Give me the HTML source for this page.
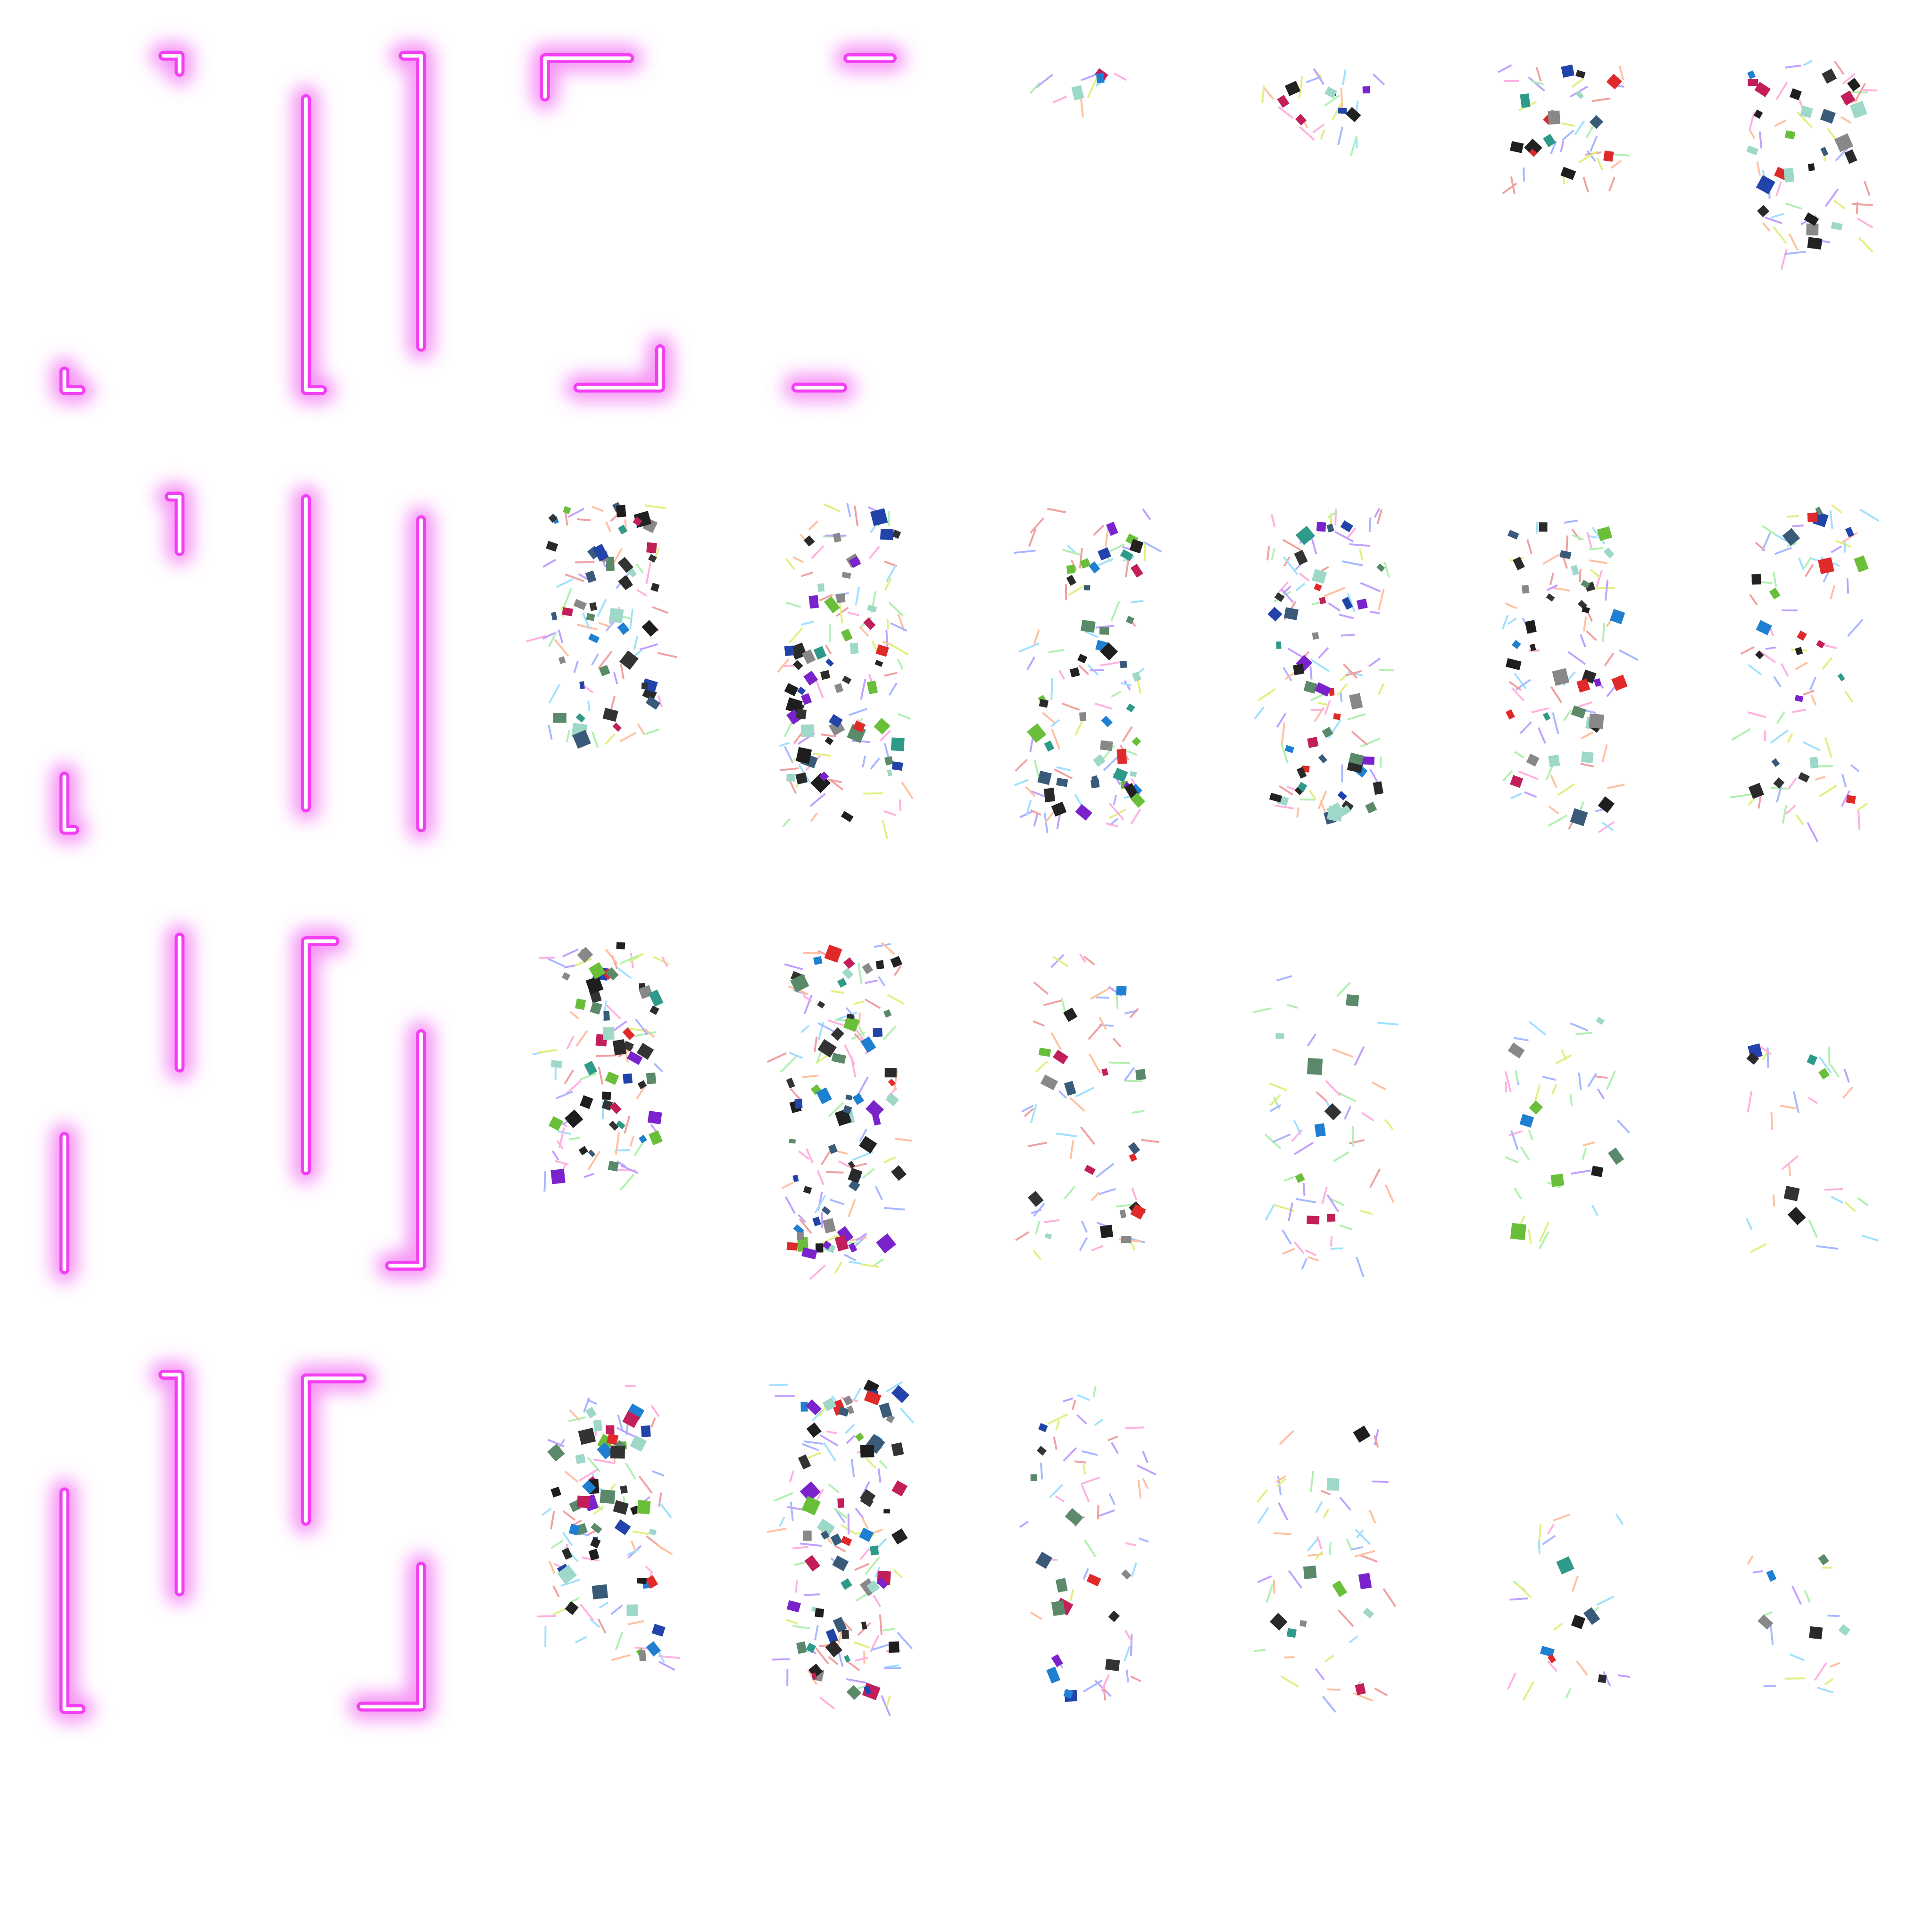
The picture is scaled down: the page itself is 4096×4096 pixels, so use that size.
<!DOCTYPE html>
<html><head><meta charset="utf-8"><style>
html,body{margin:0;padding:0;background:#fff;}
svg{display:block;}
</style></head><body>
<svg width="4096" height="4096" viewBox="0 0 1560 1560" xmlns="http://www.w3.org/2000/svg">
<defs>
<filter id="glow" filterUnits="userSpaceOnUse" x="0" y="0" width="1560" height="1560">
<feGaussianBlur stdDeviation="7"/>
</filter>
</defs>
<rect width="1560" height="1560" fill="#fff"/>
<g id="neon"></g>
<g id="confetti"></g>
</svg>
<script>
const neonPaths = [
 "M132,45 L145,45 L145,58",
 "M52,300 L52,315 L65,315",
 "M247,80 L247,315 L260,315",
 "M326,45 L340,45 L340,280",
 "M440,78 L440,47 L508,47",
 "M685,47 L720,47",
 "M467,313 L533,313 L533,282",
 "M643,313 L680,313",
 "M137,401 L145,401 L145,445",
 "M52,627 L52,670 L60,670",
 "M247,403 L247,652",
 "M340,420 L340,668",
 "M145,757 L145,862",
 "M52,918 L52,1025",
 "M247,945 L247,760 L270,760",
 "M340,835 L340,1022 L315,1022",
 "M132,1110 L145,1110 L145,1285",
 "M52,1205 L52,1380 L65,1380",
 "M247,1228 L247,1113 L292,1113",
 "M340,1265 L340,1378 L292,1378"
];
const NS="http://www.w3.org/2000/svg";
const ng=document.getElementById('neon');
neonPaths.forEach(d=>{
  [[22,"#f050f0",0.6,true],[8,"#f33ff3",1,false],[3,"#ffffff",1,false]].forEach(([w,c,o,f])=>{
    const p=document.createElementNS(NS,'path');
    
    
    p.setAttribute('d',d);p.setAttribute('fill','none');p.setAttribute('stroke',c);
    p.setAttribute('stroke-width',w);p.setAttribute('stroke-opacity',o);
    p.setAttribute('stroke-linecap','round');p.setAttribute('stroke-linejoin','round');
    if(f)p.setAttribute('filter','url(#glow)');
    ng.appendChild(p);
  });
});
const regions=[
 [830,915,55,80,3,8],[1020,1115,55,110,8,20],[1215,1310,50,150,15,30],[1410,1510,48,205,25,40],
 [440,535,405,600,45,60],[633,730,405,665,55,80],[828,925,410,665,45,80],[1020,1120,410,665,45,80],[1215,1312,420,665,35,70],[1410,1508,405,665,22,70],
 [440,535,760,955,45,60],[633,730,760,1022,60,80],[828,925,765,1020,18,55],[1020,1120,775,1020,8,50],[1215,1312,820,1010,8,35],[1410,1510,840,1015,6,25],
 [440,535,1115,1345,50,70],[633,730,1115,1375,60,90],[828,925,1115,1375,16,50],[1020,1120,1150,1370,10,45],[1220,1310,1220,1365,6,20],[1415,1500,1240,1380,5,15]
];
const sqColors=["#1e1e1e","#2a2a2a","#333","#222","#e02a2a","#7a22cc","#1f7fd0","#2e9a8a","#9ed8c8","#5a8a6a","#c21f5a","#2244aa","#6abf3a","#888","#3a5a7a"];
const lnColors=["#a8b8ff","#ffc0a0","#b0f0b0","#ffb0e0","#a0e0ff","#e0f080","#c0a0ff","#f0a0a0"];
let seed=12345;
function rnd(){seed=(seed*1103515245+12345)%2147483648;return seed/2147483648;}
const cg=document.getElementById('confetti');
regions.forEach(([x0,x1,y0,y1,ns,nl])=>{
  for(let i=0;i<nl;i++){
    const x=x0+rnd()*(x1-x0),y=y0+rnd()*(y1-y0),a=rnd()*Math.PI,l=8+rnd()*10;
    const ln=document.createElementNS(NS,'line');
    
    
    ln.setAttribute('x1',x);ln.setAttribute('y1',y);
    ln.setAttribute('x2',x+Math.cos(a)*l);ln.setAttribute('y2',y+Math.sin(a)*l);
    ln.setAttribute('stroke',lnColors[Math.floor(rnd()*lnColors.length)]);
    ln.setAttribute('stroke-width',1.5);
    cg.appendChild(ln);
  }
  for(let i=0;i<ns;i++){
    const x=x0+rnd()*(x1-x0-8),y=y0+rnd()*(y1-y0-8),s=5+rnd()*7;
    const r=document.createElementNS(NS,'rect');
    
    
    r.setAttribute('x',x);r.setAttribute('y',y);r.setAttribute('width',s);r.setAttribute('height',s*(0.6+rnd()*0.5));
    r.setAttribute('fill',sqColors[Math.floor(rnd()*sqColors.length)]);
    r.setAttribute('transform','rotate('+(rnd()*90)+' '+(x+s/2)+' '+(y+s/2)+')');
    cg.appendChild(r);
  }
});
</script>
</body></html>
